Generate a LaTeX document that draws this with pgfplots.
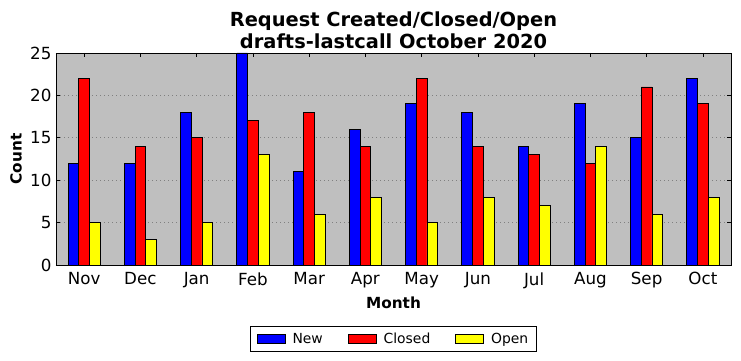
\documentclass[border=0pt]{standalone}
\usepackage{pgfplots}
\pgfplotsset{compat=1.18}
\usepackage{fontspec}
\setmainfont{DejaVu Sans}
\definecolor{bgsilver}{RGB}{191,191,191}
\pgfplotstableread{
x new closed open
0 12 22 5
1 12 14 3
2 18 15 5
3 25 17 13
4 11 18 6
5 16 14 8
6 19 22 5
7 18 14 8
8 14 13 7
9 19 12 14
10 15 21 6
11 22 19 8
}\data
\begin{document}
\begin{tikzpicture}
\begin{axis}[name=ax, at={(0,0)}, anchor=south west,
  width=675pt, height=212pt, scale only axis,
  ybar=0pt, bar width=0.19,
  xmin=-0.5, xmax=11.5, ymin=0, ymax=25,
  xtick={0,...,11},
  xticklabels={Nov,Dec,Jan,Feb,Mar,Apr,May,Jun,Jul,Aug,Sep,Oct},
  ytick={0,5,10,15,20,25},
  tick align=inside, major tick length=4pt,
  xtick pos=both, ytick pos=both,
  tick style={black, line width=0.6pt},
  ymajorgrids, grid style={gray, line width=0.6pt, dash pattern=on 1pt off 3pt},
  axis background/.style={fill=bgsilver},
  axis line style={black, line width=0.9pt},
  /pgf/number format/assume math mode=true,
  tick label style={font=\fontsize{16.7}{18}\selectfont},
  xticklabel style={yshift=-4pt},
  yticklabel style={xshift=-1pt},
  xlabel={Month}, ylabel={Count},
  label style={font=\fontsize{15.3}{17}\selectfont\bfseries},
  xlabel style={at={(0.5,0)}, anchor=center, yshift=-37.5pt},
  ylabel style={at={(0,0.5)}, anchor=center, rotate=0, yshift=40pt},
  title={Request Created/Closed/Open\\drafts-lastcall October 2020},
  title style={font=\fontsize{19.4}{22}\selectfont\bfseries, align=center, at={(0.5,1)}, anchor=south, yshift=-5pt},
  legend columns=3,
  legend style={at={(0.5,0)}, anchor=north, yshift=-61pt, draw=black, line width=0.8pt,
    font=\fontsize{13.9}{15}\selectfont, inner xsep=6.5pt, inner ysep=4.5pt,
    /tikz/every odd column/.append style={column sep=5pt},
    /tikz/every even column/.append style={column sep=23pt}},
  legend image code/.code={\draw[#1, line width=0.8pt] (0pt,-4pt) rectangle (28pt,5pt);},
  every axis plot/.append style={draw=black, line width=0.8pt},
]
\addplot[fill={rgb,255:red,0;green,0;blue,255}] table[x=x, y=new] {\data};
\addplot[fill={rgb,255:red,255;green,0;blue,0}] table[x=x, y=closed] {\data};
\addplot[fill={rgb,255:red,255;green,255;blue,0}] table[x=x, y=open] {\data};
\legend{New, Closed, Open}
\end{axis}
\pgfresetboundingbox
\path ([shift={(-56pt,-96pt)}]ax.south west) rectangle ([shift={(10pt,53pt)}]ax.north east);
\end{tikzpicture}
\end{document}
